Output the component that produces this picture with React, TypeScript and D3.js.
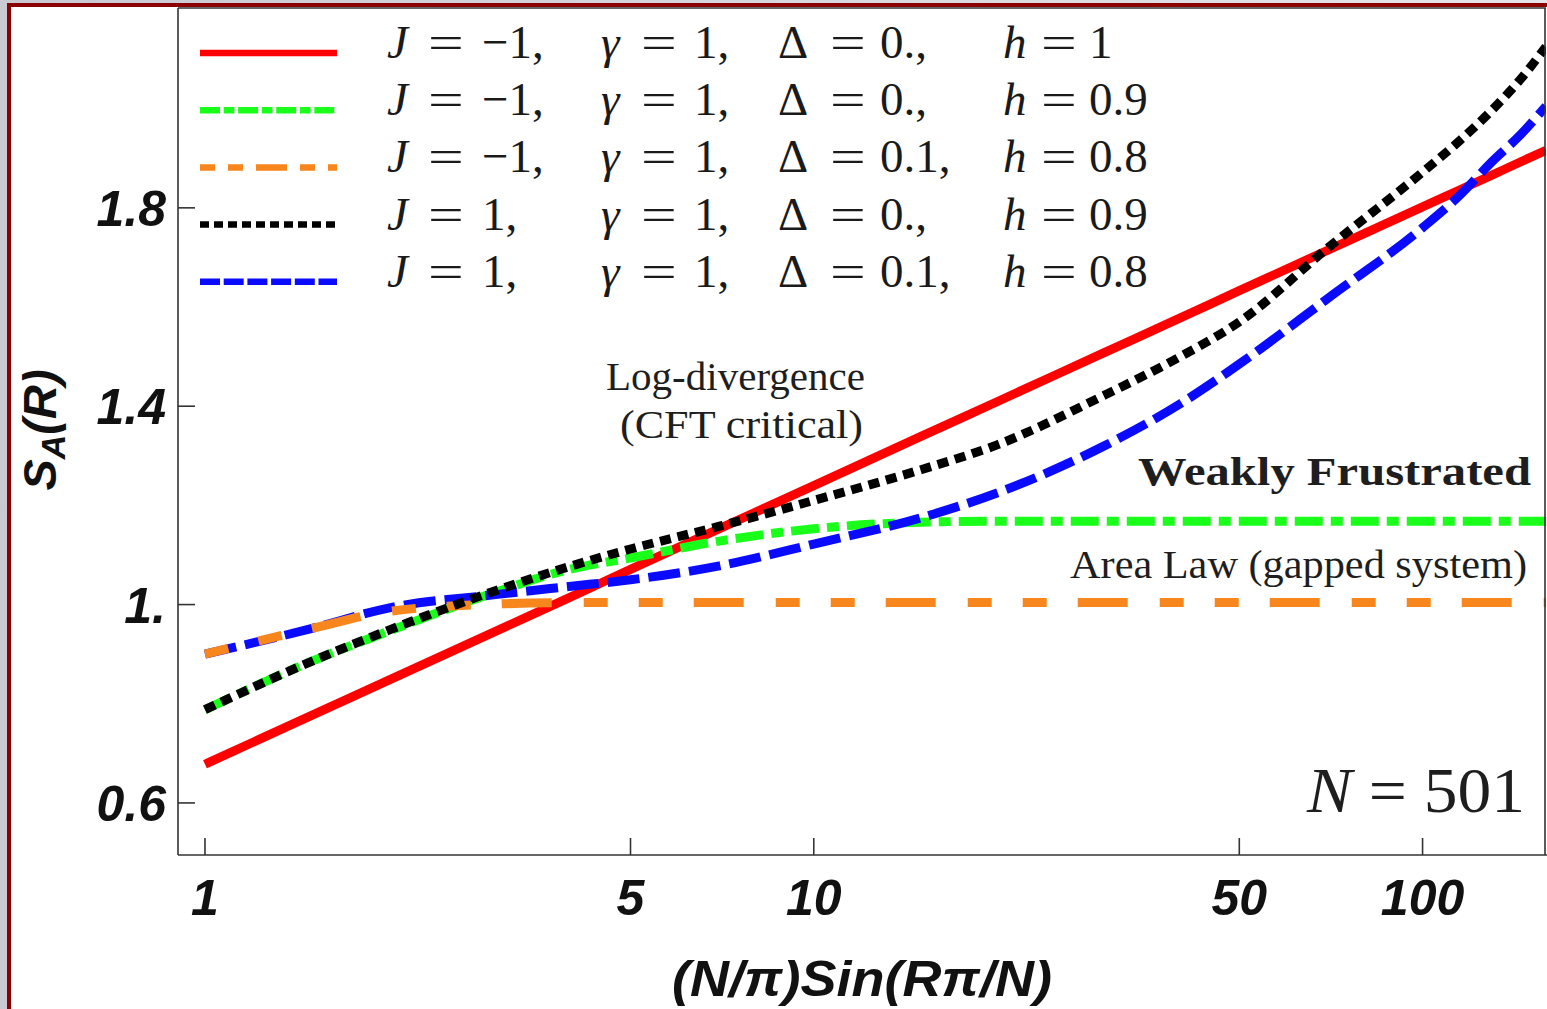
import React from 'react';
import * as d3 from 'd3';

// x = (N/pi) sin(R pi / N), N = 501
const xs = [1, 1.5, 2, 3, 4, 5, 7, 10, 15, 20, 30, 40, 50, 70, 100, 115, 130, 145, 159.5];

// S_A(R) for each parameter set
const redJm1h1 = [0.678, 0.777, 0.847, 0.946, 1.016, 1.071, 1.153, 1.24, 1.339, 1.409, 1.508, 1.578, 1.633, 1.715, 1.802, 1.836, 1.866, 1.893, 1.916];
const greenJm1h09 = [0.788, 0.886, 0.946, 1.025, 1.072, 1.094, 1.128, 1.153, 1.166, 1.168, 1.168, 1.168, 1.168, 1.168, 1.168, 1.168, 1.168, 1.168, 1.168];
const orangeJm1d01h08 = [0.9, 0.952, 0.986, 1.001, 1.004, 1.004, 1.004, 1.004, 1.004, 1.004, 1.004, 1.004, 1.004, 1.004, 1.004, 1.004, 1.004, 1.004, 1.004];
const blackJ1h09 = [0.788, 0.886, 0.948, 1.028, 1.078, 1.112, 1.158, 1.21, 1.272, 1.322, 1.422, 1.5, 1.57, 1.72, 1.872, 1.935, 1.997, 2.06, 2.125];
const blueJ1d01h08 = [0.9, 0.952, 0.993, 1.02, 1.037, 1.05, 1.078, 1.122, 1.175, 1.225, 1.32, 1.405, 1.485, 1.618, 1.76, 1.825, 1.893, 1.948, 2.005];

// legend labels
const legendJ = ['\u22121,', '\u22121,', '\u22121,', '1,', '1,'];
const legendGamma = ['1,', '1,', '1,', '1,', '1,'];
const legendDelta = ['0.,', '0.,', '0.1,', '0.,', '0.1,'];
const legendH = ['1', '0.9', '0.8', '0.9', '0.8'];

const xTicks = [1, 5, 10, 50, 100];
const yTicks = [0.6, 1.0, 1.4, 1.8];
const yTickLabels = ['0.6', '1.', '1.4', '1.8'];

const W = 1547;
const H = 1009;
const plot = { left: 178, top: 8, right: 1546, bottom: 855 };

const series = [
  { key: 'red', values: redJm1h1, color: '#ff0000', dash: null, legendDash: null },
  { key: 'green', values: greenJm1h09, color: '#1aff1a', dash: '28 8 12 8', legendDash: '20 3.7 10.7 3.7' },
  { key: 'orange', values: orangeJm1d01h08, color: '#f7871d', dash: '24 31 24 31 50 32', legendDash: '15 13 15 13 31 13' },
  { key: 'black', values: blackJ1h09, color: '#000000', dash: '11 7', legendDash: '9 5' },
  { key: 'blue', values: blueJ1d01h08, color: '#0a0aff', dash: '32 9', legendDash: '20 3.7' },
];
const drawOrder = ['red', 'green', 'blue', 'orange', 'black'];

const serif = '"Liberation Serif", "Times New Roman", serif';
const sans = '"Liberation Sans", Arial, sans-serif';

export default function App() {
  const x = d3.scaleLog().domain([0.903, 159.5]).range([plot.left, plot.right]);
  const y = d3.scaleLinear().domain([0.495, 2.203]).range([plot.bottom, plot.top]);

  const line = d3.line<number>()
    .x((_, i) => x(xs[i]))
    .y(d => y(d))
    .curve(d3.curveMonotoneX);

  const legendRows = [legendJ, legendGamma, legendDelta, legendH];
  const legendVars = [
    { sym: 'J', italic: true },
    { sym: '\u03b3', italic: true },
    { sym: '\u0394', italic: false },
    { sym: 'h', italic: true },
  ];
  const colX = [[387, 428, 482], [601, 641, 694], [778, 830, 880], [1003, 1041, 1089]];
  const rowBase = (i: number) => 58 + i * 57.2;

  return (
    <svg width={W} height={H} style={{ position: 'absolute', left: 0, top: 0, background: '#fff' }}>
      <defs>
        <linearGradient id="edge" x1="0" x2="1" y1="0" y2="0">
          <stop offset="0" stopColor="#c9c9d2" />
          <stop offset="1" stopColor="#e4e4ea" />
        </linearGradient>
        <clipPath id="plotclip">
          <rect x={plot.left} y={plot.top} width={plot.right - plot.left} height={plot.bottom - plot.top} />
        </clipPath>
      </defs>

      {/* slide frame */}
      <rect x={0} y={0} width={W} height={H} fill="url(#edge)" />
      <rect x={9} y={5} width={W + 10} height={H + 10} fill="#fff" stroke="#8b0000" strokeWidth={4} />

      {/* curves */}
      <g clipPath="url(#plotclip)" fill="none">
        {drawOrder.map(k => {
          const s = series.find(d => d.key === k)!;
          return (
            <path key={k} d={line(s.values) || ''} stroke={s.color} strokeWidth={9}
              strokeDasharray={s.dash || undefined} strokeLinecap="butt" />
          );
        })}
      </g>

      {/* frame + axes */}
      <g stroke="#333" strokeWidth={1.6} fill="none">
        <line x1={plot.left} x2={plot.right} y1={plot.top} y2={plot.top} />
        <line x1={plot.left} x2={plot.left} y1={plot.top} y2={plot.bottom} />
        <line x1={plot.left} x2={W} y1={plot.bottom} y2={plot.bottom} />
        <line x1={plot.right - 1} x2={plot.right - 1} y1={plot.top} y2={plot.bottom} />
        {yTicks.map(t => (
          <line key={'yt' + t} x1={plot.left} x2={plot.left + 17} y1={y(t)} y2={y(t)} />
        ))}
        {xTicks.map(t => (
          <line key={'xt' + t} x1={x(t)} x2={x(t)} y1={plot.bottom} y2={plot.bottom - 17} />
        ))}
      </g>

      {/* tick labels */}
      <g fontFamily={sans} fontWeight="bold" fontStyle="italic" fontSize={50} fill="#111">
        {yTicks.map((t, i) => (
          <text key={'yl' + t} x={166} y={y(t) + 18} textAnchor="end">{yTickLabels[i]}</text>
        ))}
        {xTicks.map(t => (
          <text key={'xl' + t} x={x(t)} y={915} textAnchor="middle">{t}</text>
        ))}
      </g>

      {/* axis titles */}
      <text x={672} y={996} fontFamily={sans} fontWeight="bold" fontStyle="italic"
        fontSize={50} fill="#111" textLength={380} lengthAdjust="spacingAndGlyphs">(N/{'\u03c0'})Sin(R{'\u03c0'}/N)</text>
      <text transform="translate(56,430) rotate(-90)" textAnchor="middle" fontFamily={sans} fontWeight="bold"
        fontStyle="italic" fontSize={47} fill="#111">
        S<tspan fontSize={34} dy={9}>A</tspan><tspan dy={-9}>(R)</tspan>
      </text>

      {/* legend */}
      <g>
        {series.map((s, i) => (
          <line key={'lg' + s.key} x1={200} x2={337} y1={rowBase(i) - 5} y2={rowBase(i) - 5}
            stroke={s.color} strokeWidth={6.5} strokeDasharray={s.legendDash || undefined} />
        ))}
      </g>
      <g fontFamily={serif} fontSize={47} fill="#1a1a1a">
        {series.map((s, i) => (
          <g key={'lt' + s.key}>
            {legendVars.map((v, c) => (
              <g key={c}>
                <text x={colX[c][0]} y={rowBase(i)} fontStyle={v.italic ? 'italic' : 'normal'}>{v.sym}</text>
                <text transform={`translate(${colX[c][1]},${rowBase(i)}) scale(1.35,1)`}>=</text>
                <text x={colX[c][2]} y={rowBase(i)}>{legendRows[c][i]}</text>
              </g>
            ))}
          </g>
        ))}
      </g>

      {/* annotations */}
      <g fontFamily={serif} fill="#1e1e1e">
        <text x={606} y={390} fontSize={40} textLength={259} lengthAdjust="spacingAndGlyphs">Log-divergence</text>
        <text x={620} y={438} fontSize={40} textLength={243} lengthAdjust="spacingAndGlyphs">(CFT critical)</text>
        <text x={1138} y={485} fontSize={40} fontWeight="bold" textLength={393} lengthAdjust="spacingAndGlyphs">Weakly Frustrated</text>
        <text x={1070} y={578} fontSize={40} textLength={457} lengthAdjust="spacingAndGlyphs">Area Law (gapped system)</text>
        <text x={1307} y={812} fontSize={64} textLength={218} lengthAdjust="spacingAndGlyphs">
          <tspan fontStyle="italic">N</tspan> = 501
        </text>
      </g>
    </svg>
  );
}
